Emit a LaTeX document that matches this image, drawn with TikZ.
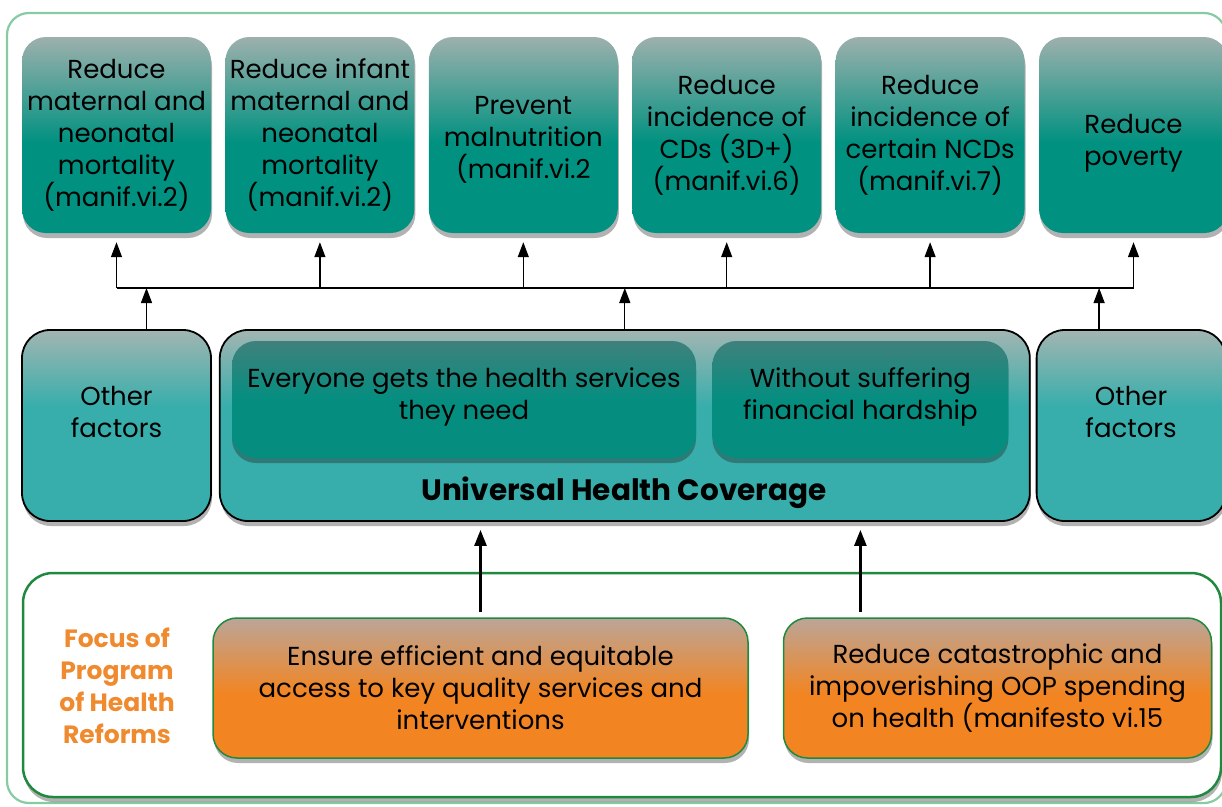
\documentclass[tikz,border=0pt]{standalone}
\usepackage{fontspec}
\setmainfont{Poppins}
\usetikzlibrary{arrows.meta, positioning, shadows}

\definecolor{goalteal}{HTML}{009180}
\definecolor{goaltop}{HTML}{9DB0AD}
\definecolor{factteal}{HTML}{37AEAB}
\definecolor{facttop}{HTML}{A2B5B2}
\definecolor{innerteal}{HTML}{058E80}
\definecolor{innertop}{HTML}{3F817C}
\definecolor{innershadow}{HTML}{2F7A76}
\definecolor{reformorange}{HTML}{F28522}
\definecolor{reformtop}{HTML}{BBA598}
\definecolor{framegreen}{HTML}{86CBA2}
\definecolor{reformgreen}{HTML}{1F8A3F}
\definecolor{focusorange}{HTML}{F08A2E}

\pgfdeclareverticalshading{goalshade}{100bp}{color(0bp)=(goalteal); color(25bp)=(goalteal); color(48bp)=(goalteal); color(75bp)=(goaltop); color(100bp)=(goaltop)}
\pgfdeclareverticalshading{factshade}{100bp}{color(0bp)=(factteal); color(25bp)=(factteal); color(55bp)=(factteal); color(75bp)=(facttop); color(100bp)=(facttop)}
\pgfdeclareverticalshading{innershade}{100bp}{color(0bp)=(innerteal); color(25bp)=(innerteal); color(50bp)=(innerteal); color(75bp)=(innertop); color(100bp)=(innertop)}
\pgfdeclareverticalshading{reformshade}{100bp}{color(0bp)=(reformorange); color(25bp)=(reformorange); color(48bp)=(reformorange); color(75bp)=(reformtop); color(100bp)=(reformtop)}

\newcommand\boxfont{\fontsize{26}{32}\selectfont}

\tikzset{
  goal/.style={rectangle, rounded corners=24pt, shade, shading=goalshade, align=center, inner sep=0pt,
    minimum width=189pt, minimum height=196pt, font=\boxfont,
    drop shadow={shadow xshift=1pt, shadow yshift=-5pt, fill=black, opacity=.3}},
  factor/.style={rectangle, rounded corners=28pt, draw=black, line width=1.8pt, shade, shading=factshade,
    align=center, inner sep=0pt, minimum width=189pt, minimum height=191pt, font=\boxfont,
    drop shadow={shadow xshift=1pt, shadow yshift=-5pt, fill=black, opacity=.3}},
  innerbox/.style={rectangle, rounded corners=24pt, shade, shading=innershade, align=center, inner sep=0pt,
    minimum height=117pt, font=\boxfont,
    drop shadow={shadow xshift=0pt, shadow yshift=-5pt, fill=innershadow, opacity=1}},
  reform/.style={rectangle, rounded corners=24pt, draw=reformgreen, line width=1.5pt, shade, shading=reformshade,
    align=center, inner sep=0pt, minimum height=140pt, font=\boxfont,
    drop shadow={shadow xshift=1pt, shadow yshift=-5pt, fill=black, opacity=.3}},
  wire/.style={line width=1.3pt},
  arr/.style={wire, -{Triangle[width=11pt,length=15pt]}},
  bigarr/.style={line width=2.6pt, -{Triangle[width=12pt,length=16pt]}}
}

\begin{document}
\begin{tikzpicture}[x=1pt, y=-1pt]
\useasboundingbox (0,0) rectangle (1222,806);
\node[rectangle, draw=framegreen, line width=2.2pt, rounded corners=22pt, minimum width=1219pt, minimum height=790pt] (frame) at (616.5,408) {};

% goals
\node[goal] (g1) at (116.5,135) {Reduce\\maternal and\\neonatal\\mortality\\(manif.vi.2)};
\node[goal, right=14pt of g1] (g2) {Reduce infant\\maternal and\\neonatal\\mortality\\(manif.vi.2)};
\node[goal, right=14pt of g2, text height=91pt] (g3) {Prevent\\malnutrition\\(manif.vi.2};
\node[goal, right=14pt of g3] (g4) {Reduce\\incidence of\\CDs (3D+)\\(manif.vi.6)};
\node[goal, right=14pt of g4] (g5) {Reduce\\incidence of\\certain NCDs\\(manif.vi.7)};
\node[goal, right=14pt of g5, text height=67pt] (g6) {Reduce\\poverty};

% UHC and other factors
\node[factor, text depth=28pt] (oleft) at (116.5,425.5) {Other\\factors};
\node[factor, minimum width=810pt, right=7pt of oleft] (uhc) {};
\node[factor, right=5pt of uhc, text depth=28pt] (oright) {Other\\factors};
\node[innerbox, minimum width=464pt, text depth=12pt] (ev) at (464,399.5) {Everyone gets the health services\\they need};
\node[innerbox, minimum width=296pt, right=16pt of ev, text depth=12pt] (wo) {Without suffering\\financial hardship};
\node[font=\bfseries\fontsize{29.5}{30}\selectfont] (uhclabel) at (624,493) {Universal Health Coverage};

% reforms
\node[rectangle, draw=reformgreen, line width=2.5pt, rounded corners=30pt, fill=white, minimum width=1198pt, minimum height=224pt,
  drop shadow={shadow xshift=1pt, shadow yshift=-5pt, fill=black, opacity=.3}] (reforms) at (622,685) {};
\node[align=center, text=focusorange, font=\bfseries\fontsize{25}{32}\selectfont] (focus) at (117,686) {Focus of\\Program\\of Health\\Reforms};
\node[reform, minimum width=535pt] (ensure) at (480.5,688) {Ensure efficient and equitable\\access to key quality services and\\interventions};
\node[reform, minimum width=428pt, right=34pt of ensure] (oop) {Reduce catastrophic and\\impoverishing OOP spending\\on health (manifesto vi.15};

% connectors
\coordinate (bus) at (0,288);
\draw[wire] (g1 |- bus) -- (g6 |- bus);
\foreach \g in {g1,g2,g3,g4,g5,g6}
  \draw[arr, shorten >=9pt] (\g |- bus) -- (\g.south);
\draw[arr] ([xshift=30pt]oleft.north) -- ([xshift=30pt]oleft.north |- bus);
\draw[arr] (uhc.north) -- (uhc.north |- bus);
\draw[arr] ([xshift=-32pt]oright.north) -- ([xshift=-32pt]oright.north |- bus);
\draw[bigarr, shorten <=5pt, shorten >=8pt] (ensure.north) -- (ensure.north |- uhc.south);
\draw[bigarr, shorten <=5pt, shorten >=8pt] (oop.north -| wo) -- (wo |- uhc.south);
\end{tikzpicture}
\end{document}
